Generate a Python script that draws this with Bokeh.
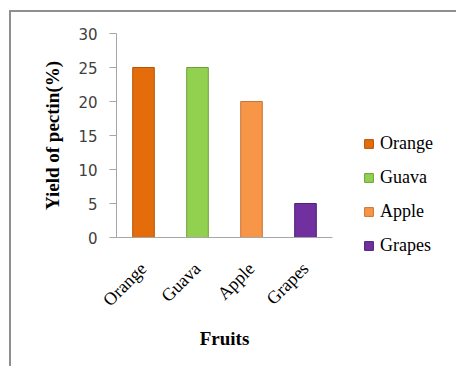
import math
from bokeh.plotting import figure
from bokeh.layouts import row
from bokeh.models import ColumnDataSource, FixedTicker, Legend, LegendItem, FactorRange, Range1d
from bokeh.embed import file_html
from bokeh.resources import INLINE

fruits = ["Orange", "Guava", "Apple", "Grapes"]
yield_pct = [25, 25, 20, 5]
colors = ["#E46C0A", "#92D050", "#F79646", "#7030A0"]
edges = ["#B4540A", "#6E9E3A", "#C8753A", "#4E1F73"]
y_ticks = [0, 5, 10, 15, 20, 25, 30]

src = ColumnDataSource(dict(fruit=fruits, y=yield_pct, color=colors, edge=edges))

H = 354
p = figure(
    x_range=FactorRange(factors=fruits), y_range=Range1d(0, 30),
    width=329, height=H,
    output_backend="svg", toolbar_location=None,
    min_border_left=105, min_border_top=21,
    min_border_right=8, min_border_bottom=129,
)
p.frame_align = False
p.outline_line_color = None
p.xgrid.grid_line_color = None
p.ygrid.grid_line_color = None

r = p.vbar(x="fruit", top="y", width=0.4, source=src,
           fill_color="color", line_color="edge", line_width=1)

# y axis
p.yaxis.ticker = FixedTicker(ticks=y_ticks)
p.yaxis.axis_line_color = "#A6A6A6"
p.yaxis.major_tick_line_color = "#A6A6A6"
p.yaxis.major_tick_out = 7
p.yaxis.major_tick_in = 0
p.yaxis.minor_tick_line_color = None
p.yaxis.major_label_text_font = "DejaVu Sans"
p.yaxis.major_label_text_font_size = "15px"
p.yaxis.major_label_text_color = "#404040"
p.yaxis.major_label_standoff = 12
p.yaxis.axis_label = "Yield of pectin(%)"
p.yaxis.axis_label_text_font = "Liberation Serif"
p.yaxis.axis_label_text_font_style = "bold"
p.yaxis.axis_label_text_font_size = "19px"
p.yaxis.axis_label_text_color = "#000000"
p.yaxis.axis_label_standoff = 12

# x axis
p.xaxis.axis_line_color = "#A6A6A6"
p.xaxis.major_tick_line_color = None
p.xaxis.minor_tick_line_color = None
p.xaxis.major_label_orientation = math.pi / 4
p.xaxis.major_label_text_font = "Liberation Serif"
p.xaxis.major_label_text_font_size = "18px"
p.xaxis.major_label_text_color = "#000000"
p.xaxis.major_label_standoff = 22
p.xaxis.axis_label = "Fruits"
p.xaxis.axis_label_text_font = "Liberation Serif"
p.xaxis.axis_label_text_font_style = "bold"
p.xaxis.axis_label_text_font_size = "19px"
p.xaxis.axis_label_text_color = "#000000"
p.xaxis.axis_label_standoff = 8

# legend panel: the same bars as zero-size marks outside the view, only the legend shows
pl = figure(
    x_range=FactorRange(factors=fruits), y_range=Range1d(100, 101),
    width=116, height=H, x_axis_type=None, y_axis_type=None,
    output_backend="svg", toolbar_location=None,
    min_border_left=0, min_border_right=0, min_border_top=0, min_border_bottom=0,
)
pl.frame_align = False
pl.outline_line_color = None
pl.xgrid.grid_line_color = None
pl.ygrid.grid_line_color = None
rl = pl.vbar(x="fruit", top="y", bottom="y", width=0, source=src,
             fill_color="color", line_color="edge", line_width=1)

items = [LegendItem(label=f, renderers=[rl], index=i) for i, f in enumerate(fruits)]
legend = Legend(items=items, location=(23, 110), margin=0, padding=0,
                glyph_width=11, glyph_height=11, label_height=20, spacing=13,
                label_standoff=6, label_text_font="Liberation Serif",
                label_text_font_size="18px", label_text_color="#000000",
                background_fill_alpha=0, border_line_color=None)
pl.add_layout(legend, "center")

layout = row(p, pl, margin=(10, 0, 0, 9),
             styles={"border-top": "2px solid #8f8f8f", "border-left": "2px solid #8f8f8f"})

open("out.html", "w").write(file_html(layout, INLINE))
